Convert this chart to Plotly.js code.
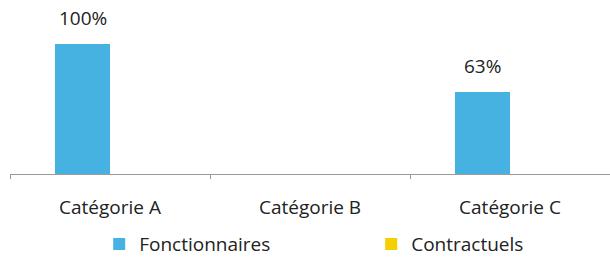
<!DOCTYPE html>
<html>
<head>
<meta charset="utf-8">
<script src="https://cdn.plot.ly/plotly-3.0.1.min.js"></script>
<style>html,body{margin:0;padding:0;background:#fff;}#chart{width:610px;height:260px;}</style>
</head>
<body>
<div id="chart"></div>
<script>
const categories = ['Catégorie A', 'Catégorie B', 'Catégorie C'];
const fonctionnaires = [100, 0, 63];
const contractuels = [0, 0, 0];
const seriesNames = ['Fonctionnaires', 'Contractuels'];

const labelText = v => (v > 0 ? v + '%' : '');

const traces = [
  {type: 'bar', name: seriesNames[0], x: categories, y: fonctionnaires,
   marker: {color: '#45b2e2'}, hoverinfo: 'none'},
  {type: 'bar', name: seriesNames[1], x: categories, y: contractuels,
   marker: {color: '#f5d000'}, hoverinfo: 'none'}
];

const annotations = [];
fonctionnaires.forEach((v, i) => {
  if (v > 0) annotations.push({x: categories[i], y: v, xref: 'x', yref: 'y', text: labelText(v),
    showarrow: false, xshift: -27.5, yshift: 26, yanchor: 'middle',
    font: {family: 'Open Sans', size: 19, color: '#222'}});
});
contractuels.forEach((v, i) => {
  if (v > 0) annotations.push({x: categories[i], y: v, xref: 'x', yref: 'y', text: labelText(v),
    showarrow: false, xshift: 27.5, yshift: 26, yanchor: 'middle',
    font: {family: 'Open Sans', size: 19, color: '#222'}});
});

const layout = {
  width: 610, height: 260,
  margin: {l: 10, r: 0, t: 44, b: 86, pad: 0, autoexpand: false},
  paper_bgcolor: '#fff', plot_bgcolor: '#fff',
  font: {family: 'Open Sans', size: 19, color: '#222'},
  barmode: 'group', bargap: 0.45, bargroupgap: 0,
  showlegend: true,
  legend: {orientation: 'h', x: 0.602, xanchor: 'center', y: -0.394, yanchor: 'top',
    entrywidth: 227, entrywidthmode: 'pixels', font: {size: 19, color: '#222'}},
  xaxis: {type: 'category', showline: true, linecolor: '#9a9a9a', linewidth: 1,
    ticks: 'outside', tickson: 'boundaries', ticklen: 4, tickcolor: '#9a9a9a',
    showgrid: false, zeroline: false, ticklabelstandoff: 16, fixedrange: true, automargin: false},
  yaxis: {range: [0, 100], visible: false, showgrid: false, zeroline: false, fixedrange: true},
  annotations: annotations
};

Plotly.newPlot('chart', traces, layout, {displayModeBar: false, staticPlot: true});
</script>
</body>
</html>
